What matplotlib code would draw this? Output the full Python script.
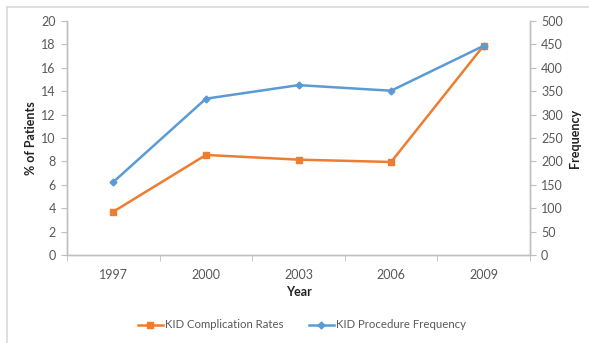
import matplotlib
matplotlib.use("Agg")
import matplotlib.pyplot as plt
from matplotlib.lines import Line2D
import numpy as np

years = ["1997", "2000", "2003", "2006", "2009"]
complication_rates = [3.7, 8.55, 8.15, 7.95, 17.9]
procedure_frequency = [156, 334, 363, 351, 447]
left_ticks = [0, 2, 4, 6, 8, 10, 12, 14, 16, 18, 20]
right_ticks = [0, 50, 100, 150, 200, 250, 300, 350, 400, 450, 500]

plt.rcParams["font.family"] = ["Lato", "DejaVu Sans"]
orange = "#ED7D31"
blue = "#5B9BD5"
axis_gray = "#BFBFBF"
text_gray = "#595959"

W, H = 589, 343
fig = plt.figure(figsize=(W / 100, H / 100), dpi=100)
ax = fig.add_axes([67 / W, 1 - 255 / H, (530 - 67) / W, (255 - 21) / H])
ax2 = ax.twinx()

x = np.arange(len(years))
ax.plot(x, complication_rates, color=orange, lw=1.8, marker="s", ms=5, zorder=3)
ax2.plot(x, procedure_frequency, color=blue, lw=1.8, marker="D", ms=3.5, zorder=3)

ax.set_xlim(-0.5, len(years) - 0.5)
ax.set_ylim(0, 20)
ax2.set_ylim(0, 500)
ax.set_yticks(left_ticks)
ax2.set_yticks(right_ticks)
ax.set_xticks(x)
ax.set_xticklabels(years)
ax.set_xticks(np.arange(-0.5, len(years)), minor=True)
ax.tick_params(axis="x", which="major", length=0, pad=10, labelsize=9, labelcolor=text_gray)
ax.tick_params(axis="x", which="minor", length=4, color=axis_gray, direction="out")
ax.tick_params(axis="y", length=4, color=axis_gray, labelsize=9, labelcolor=text_gray, pad=4)
ax2.tick_params(axis="y", length=4, color=axis_gray, labelsize=9, labelcolor=text_gray, pad=4)

for a in (ax, ax2):
    a.spines["top"].set_visible(False)
    for side in ("left", "right", "bottom"):
        a.spines[side].set_color(axis_gray)
        a.spines[side].set_linewidth(1.0)

ax.set_xlabel("Year", fontsize=9, fontweight="bold", labelpad=4, color="#222222")
ax.set_ylabel("% of Patients", fontsize=9, fontweight="bold", labelpad=3, color="#222222")
ax2.set_ylabel("Frequency", fontsize=9, fontweight="bold", labelpad=4, color="#222222",
               rotation=90, va="top")

handles = [
    Line2D([], [], color=orange, lw=1.8, marker="s", ms=5),
    Line2D([], [], color=blue, lw=1.8, marker="D", ms=3.5),
]
fig.legend(handles, ["KID Complication Rates", "KID Procedure Frequency"],
           loc="center", bbox_to_anchor=(302 / W, 1 - 325 / H), ncol=2,
           frameon=False, fontsize=8.2, handlelength=2.2, columnspacing=2.2,
           handletextpad=0.2, labelcolor=text_gray)

# Outer chart frame
fig.add_artist(Line2D([7 / W, 1], [1 - 7 / H, 1 - 7 / H], color="#D9D9D9", lw=1.2))
fig.add_artist(Line2D([7 / W, 7 / W], [0, 1 - 7 / H], color="#D9D9D9", lw=1.2))

fig.savefig("out.png", dpi=100)
